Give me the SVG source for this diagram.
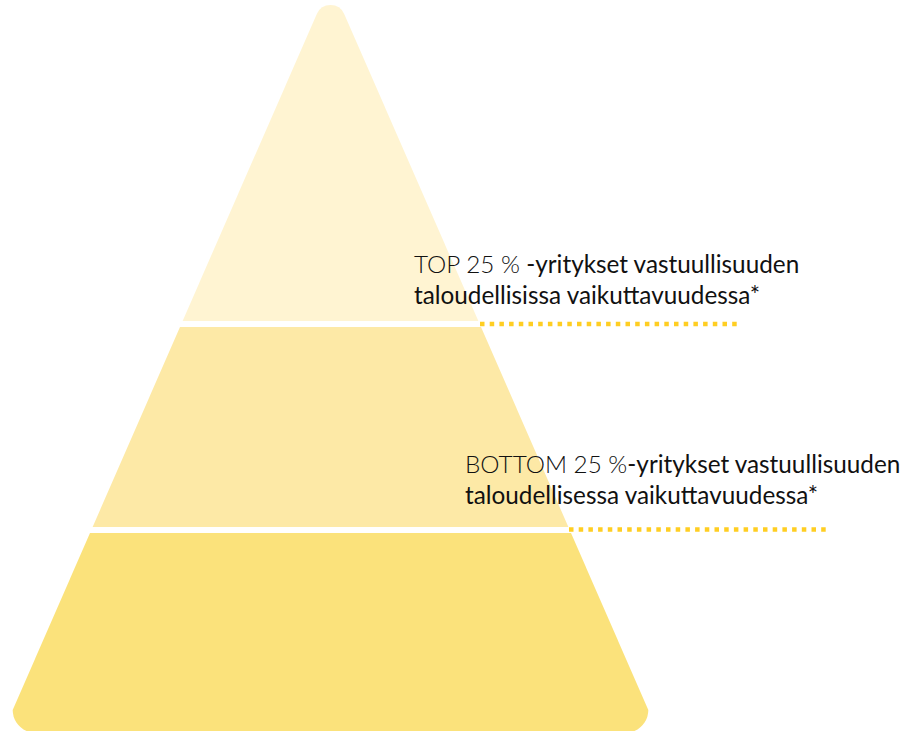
<svg xmlns="http://www.w3.org/2000/svg" width="912" height="732" viewBox="0 0 912 732">
<style>
.lbl{font-family:Lato,"Open Sans","Liberation Sans",sans-serif;font-size:24.3px;fill:#111}
.lt{font-weight:300}
.dots{stroke:#FFCE22;stroke-width:4.5;stroke-dasharray:4.5 5.2;fill:none}
</style>
<defs>
<clipPath id="pyr">
<path d="M316.8,13.9 A15,15 0 0 1 344.2,13.9 L648.3,709.9 A23,23 0 0 1 634.5,731 L26.5,731 A23,23 0 0 1 12.7,709.9 Z"/>
</clipPath>
</defs>
<g clip-path="url(#pyr)">
<g id="top"><rect x="0" y="0" width="700" height="321" fill="#FFF4D2"/></g>
<g id="middle"><rect x="0" y="327" width="700" height="200" fill="#FDE9A6"/></g>
<g id="bottom"><rect x="0" y="533" width="700" height="200" fill="#FBE27B"/></g>
</g>
<g id="connectors">
<line class="dots" x1="480" y1="324" x2="737" y2="324"/>
<line class="dots" x1="569" y1="529.5" x2="828" y2="529.5"/>
</g>
<g id="label-top">
<text class="lbl" x="414" y="272.5"><tspan class="lt">TOP 25 %</tspan> -yritykset vastuullisuuden</text>
<text class="lbl" x="414" y="303.5">taloudellisissa vaikuttavuudessa*</text>
</g>
<g id="label-bottom">
<text class="lbl" x="465" y="472.5"><tspan class="lt">BOTTOM 25 %</tspan>-yritykset vastuullisuuden</text>
<text class="lbl" x="465" y="504">taloudellisessa vaikuttavuudessa*</text>
</g>
</svg>
